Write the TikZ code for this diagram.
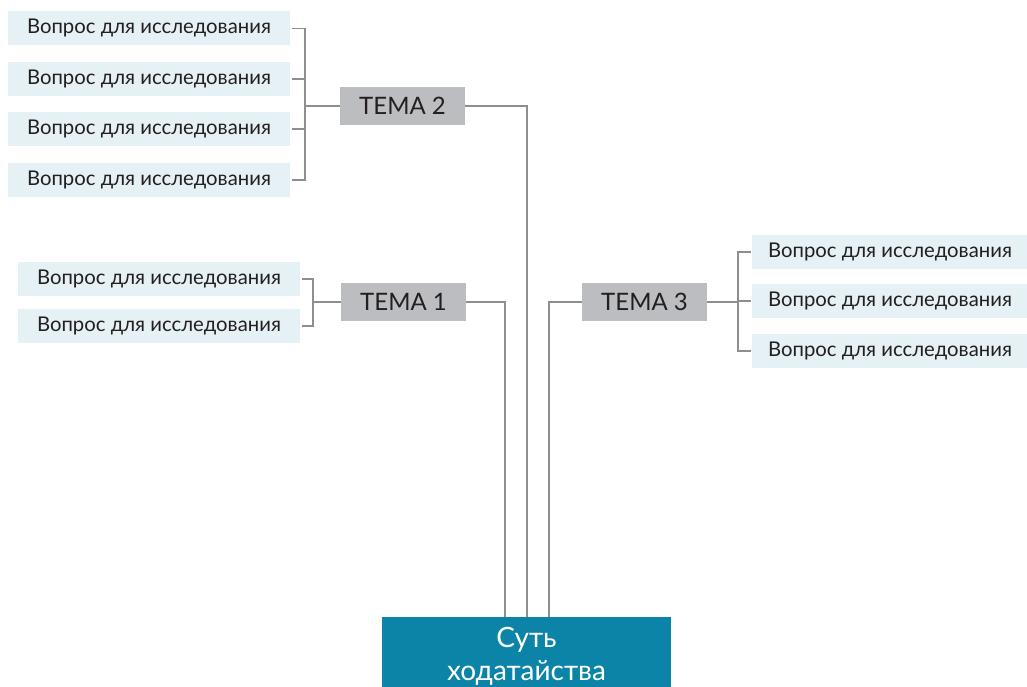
\documentclass[tikz,border=0pt]{standalone}
\usepackage{fontspec}
\setmainfont{Lato}
\definecolor{qfill}{HTML}{E6F1F5}
\definecolor{tfill}{HTML}{BCBDC0}
\definecolor{sfill}{HTML}{0B84A8}
\definecolor{lcol}{HTML}{8E8E90}
\definecolor{tcol}{HTML}{231F20}
\tikzset{
  qbox/.style={fill=qfill, text=tcol, minimum height=34pt, inner sep=0pt, font=\fontsize{20.3}{22}\selectfont},
  tbox/.style={fill=tfill, text=tcol, minimum width=125pt, minimum height=38pt, inner sep=0pt, font=\fontsize{24}{26}\selectfont},
  conn/.style={draw=lcol, line width=1.3pt},
}
\begin{document}
\begin{tikzpicture}[x=1pt,y=-1pt]
\useasboundingbox (0,0) rectangle (1027,687);
\clip (0,0) rectangle (1027,687);
% TEMA 2 group
\node[qbox, minimum width=282pt] (q21) at (149,28.5) {Вопрос для исследования};
\node[qbox, minimum width=282pt] (q22) at (149,79) {Вопрос для исследования};
\node[qbox, minimum width=282pt] (q23) at (149,129) {Вопрос для исследования};
\node[qbox, minimum width=282pt] (q24) at (149,180) {Вопрос для исследования};
\node[tbox] (t2) at (402.5,106) {ТЕМА 2};
% TEMA 1 group
\node[qbox, minimum width=282pt] (q11) at (159,279) {Вопрос для исследования};
\node[qbox, minimum width=282pt] (q12) at (159,326) {Вопрос для исследования};
\node[tbox] (t1) at (403.5,302) {ТЕМА 1};
% TEMA 3 group
\node[tbox] (t3) at (644.5,302) {ТЕМА 3};
\node[qbox, minimum width=276pt] (q31) at (890,252) {Вопрос для исследования};
\node[qbox, minimum width=276pt] (q32) at (890,301) {Вопрос для исследования};
\node[qbox, minimum width=276pt] (q33) at (890,351) {Вопрос для исследования};
% core box
\fill[sfill] (382,617) rectangle (671,700);
\node[text=white, font=\fontsize{28}{33}\selectfont, align=center, inner sep=0pt, anchor=south] (s) at (526.5,685.5) {Суть\\ходатайства};
\coordinate (d1) at (505,617);
\coordinate (d2) at (527,617);
\coordinate (d3) at (549,617);
\coordinate (b2) at (305,106);
\coordinate (b1) at (313,302);
\coordinate (b3) at (738,302);
% connectors TEMA 2
\draw[conn] ([xshift=2pt]q21.east) -| (b2);
\draw[conn] ([xshift=2pt]q24.east) -| (b2);
\draw[conn] ([xshift=2pt]q22.east) -- (q22.east -| b2);
\draw[conn] ([xshift=2pt]q23.east) -- (q23.east -| b2);
\draw[conn] (b2) -- (t2.west);
\draw[conn] (t2.east) -| (d2);
% connectors TEMA 1
\draw[conn] ([xshift=2pt]q11.east) -| (b1);
\draw[conn] ([xshift=2pt]q12.east) -| (b1);
\draw[conn] (b1) -- (t1.west);
\draw[conn] (t1.east) -| (d1);
% connectors TEMA 3
\draw[conn] (t3.west) -| (d3);
\draw[conn] (t3.east) -- (b3);
\draw[conn] ([xshift=-1pt]q31.west) -| (b3);
\draw[conn] ([xshift=-1pt]q33.west) -| (b3);
\draw[conn] ([xshift=-1pt]q32.west) -- (q32.west -| b3);
\end{tikzpicture}
\end{document}
